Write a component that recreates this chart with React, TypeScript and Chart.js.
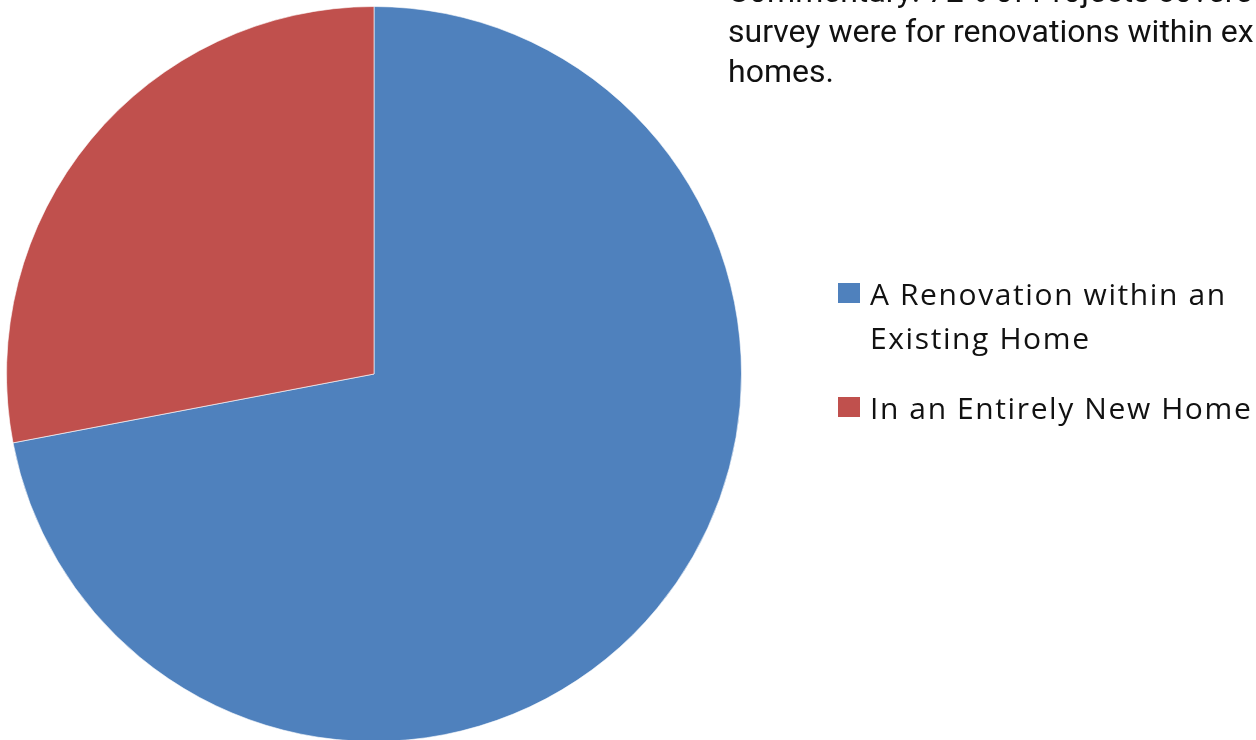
import React, { useEffect, useRef } from "react";
import { Chart, registerables } from "chart.js";

Chart.register(...registerables);

const categories = ["A Renovation within an Existing Home", "In an Entirely New Home"];
const legendLines = [["A Renovation within an", "Existing Home"], ["In an Entirely New Home"]];
const values = [72, 28];
const colors = ["#4F81BD", "#C0504D"];
const commentaryLines = [
  "Commentary: 72% of Projects covered in this",
  "survey were for renovations within existing",
  "homes.",
];

export default function App() {
  const ref = useRef<HTMLCanvasElement | null>(null);
  useEffect(() => {
    document.body.style.margin = "0";
    const chart = new Chart(ref.current!, {
      type: "pie",
      data: {
        labels: categories,
        datasets: [
          {
            data: values,
            backgroundColor: colors,
            borderColor: "rgba(255,255,255,0.6)",
            borderWidth: 1,
          },
        ],
      },
      options: {
        responsive: false,
        animation: false,
        layout: { padding: { left: 6, top: 6, right: 514, bottom: 18 } },
        plugins: { legend: { display: false }, tooltip: { enabled: false } },
      },
    });
    return () => chart.destroy();
  }, []);

  return (
    <div style={{ position: "relative", width: 1256, height: 740, overflow: "hidden", background: "#fff" }}>
      <canvas ref={ref} width={1256} height={760} style={{ position: "absolute", left: 0, top: 0 }} />
      <div
        style={{
          position: "absolute",
          left: 728,
          top: -29,
          fontFamily: "Roboto",
          fontSize: 32,
          lineHeight: "40px",
          whiteSpace: "nowrap",
          color: "#111",
        }}
      >
        {commentaryLines.map((l, i) => (
          <div key={i}>{l}</div>
        ))}
      </div>
      <div
        style={{
          position: "absolute",
          left: 838,
          top: 272,
          fontFamily: "Open Sans",
          fontSize: 30,
          letterSpacing: "1.6px",
          whiteSpace: "nowrap",
          color: "#111",
        }}
      >
        {legendLines.map((lines, i) => (
          <div key={i} style={{ display: "flex", alignItems: "flex-start", marginBottom: 26 }}>
            <div style={{ width: 22, height: 20, background: colors[i], marginTop: 11, marginRight: 10 }} />
            <div style={{ lineHeight: "44px" }}>
              {lines.map((t, j) => (
                <div key={j}>{t}</div>
              ))}
            </div>
          </div>
        ))}
      </div>
    </div>
  );
}
